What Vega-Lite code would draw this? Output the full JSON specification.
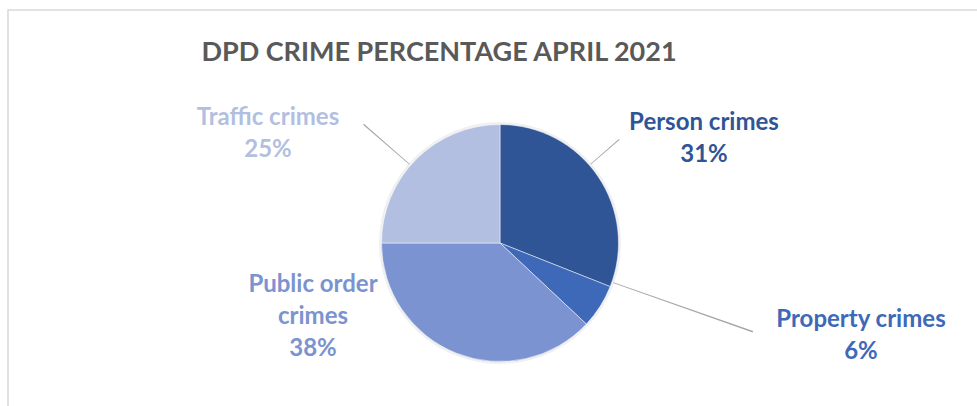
{
  "$schema": "https://vega.github.io/schema/vega-lite/v6.json",
  "autosize": {"type": "none"},
  "padding": {"left": 8, "top": 10, "right": 0, "bottom": 0},
  "width": 984,
  "height": 466,
  "background": "white",
  "view": {"stroke": "#D9D9D9", "strokeWidth": 1.5, "fill": "white"},
  "title": {
    "text": "DPD CRIME PERCENTAGE APRIL 2021",
    "font": "Lato",
    "fontSize": 27,
    "fontWeight": "bold",
    "color": "#595959",
    "anchor": "middle",
    "frame": "group",
    "dx": -61,
    "offset": -78,
    "baseline": "alphabetic"
  },
  "data": {
    "values": [
      {"crime": "Person crimes", "pct": 31, "order": 1, "label": "Person crimes\n31%"},
      {"crime": "Property crimes", "pct": 6, "order": 2, "label": "Property crimes\n6%"},
      {"crime": "Public order crimes", "pct": 38, "order": 3, "label": "Public order\ncrimes\n38%"},
      {"crime": "Traffic crimes", "pct": 25, "order": 4, "label": "Traffic crimes\n25%"}
    ]
  },
  "encoding": {
    "theta": {"field": "pct", "type": "quantitative", "stack": true},
    "order": {"field": "order", "type": "ordinal"},
    "color": {
      "field": "crime",
      "type": "nominal",
      "legend": null,
      "scale": {
        "domain": ["Person crimes", "Property crimes", "Public order crimes", "Traffic crimes"],
        "range": ["#2F5597", "#3E69B8", "#7B93D0", "#B2BFE0"]
      }
    }
  },
  "layer": [
    {
      "mark": {"type": "arc", "outerRadius": 121, "opacity": 0.06, "strokeWidth": 0},
      "encoding": {"color": {"value": "#000000"}}
    },
    {
      "mark": {"type": "arc", "outerRadius": 118.5, "stroke": "white", "strokeWidth": 0.5}
    },
    {
      "data": {"values": [{"line": "traffic"}]},
      "mark": {"type": "arc", "theta": 5.425, "theta2": 5.432, "radius": 120, "radius2": 181, "color": "#A6A6A6"},
      "encoding": {"theta": null, "order": null, "color": null}
    },
    {
      "data": {"values": [{"line": "person"}]},
      "mark": {"type": "arc", "theta": 0.852, "theta2": 0.859, "radius": 120, "radius2": 158, "color": "#A6A6A6"},
      "encoding": {"theta": null, "order": null, "color": null}
    },
    {
      "data": {"values": [{"line": "property"}]},
      "mark": {"type": "arc", "theta": 1.905, "theta2": 1.911, "radius": 120, "radius2": 268, "color": "#A6A6A6"},
      "encoding": {"theta": null, "order": null, "color": null}
    },
    {
      "mark": {"type": "text", "radius": 0, "dx": 204, "dy": -120, "font": "Lato", "fontSize": 24, "fontWeight": "bold", "lineBreak": "\n", "lineHeight": 32, "align": "center", "baseline": "middle"},
      "encoding": {"text": {"condition": {"test": "datum.crime === 'Person crimes'", "field": "label"}, "value": ""}}
    },
    {
      "mark": {"type": "text", "radius": 0, "dx": 361, "dy": 77, "font": "Lato", "fontSize": 24, "fontWeight": "bold", "lineBreak": "\n", "lineHeight": 32, "align": "center", "baseline": "middle"},
      "encoding": {"text": {"condition": {"test": "datum.crime === 'Property crimes'", "field": "label"}, "value": ""}}
    },
    {
      "mark": {"type": "text", "radius": 0, "dx": -187, "dy": 42, "font": "Lato", "fontSize": 24, "fontWeight": "bold", "lineBreak": "\n", "lineHeight": 32, "align": "center", "baseline": "middle"},
      "encoding": {"text": {"condition": {"test": "datum.crime === 'Public order crimes'", "field": "label"}, "value": ""}}
    },
    {
      "mark": {"type": "text", "radius": 0, "dx": -232, "dy": -125, "font": "Lato", "fontSize": 24, "fontWeight": "bold", "lineBreak": "\n", "lineHeight": 32, "align": "center", "baseline": "middle"},
      "encoding": {"text": {"condition": {"test": "datum.crime === 'Traffic crimes'", "field": "label"}, "value": ""}}
    }
  ]
}
